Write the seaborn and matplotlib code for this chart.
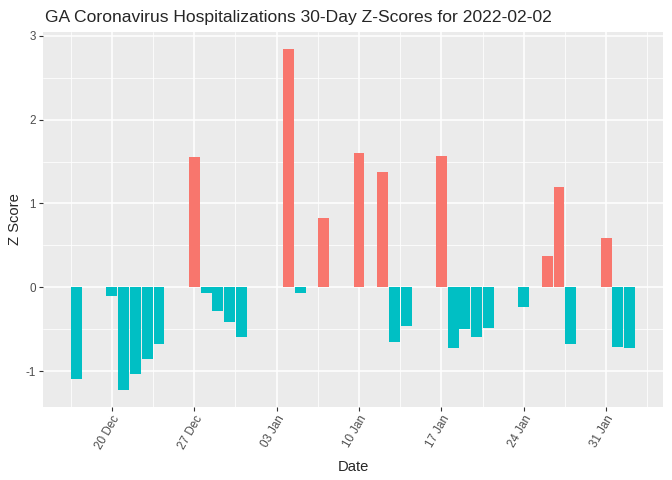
import matplotlib
matplotlib.use("Agg")
import matplotlib.dates as mdates
import matplotlib.pyplot as plt
import matplotlib.ticker as mticker
import pandas as pd
import seaborn as sns

OUTPUT_PATH = "out.png"

DATES = [
    "2021-12-17", "2021-12-20", "2021-12-21", "2021-12-22", "2021-12-23",
    "2021-12-24", "2021-12-27", "2021-12-28", "2021-12-29", "2021-12-30",
    "2021-12-31", "2022-01-04", "2022-01-05", "2022-01-07", "2022-01-10",
    "2022-01-12", "2022-01-13", "2022-01-14", "2022-01-17", "2022-01-18",
    "2022-01-19", "2022-01-20", "2022-01-21", "2022-01-24", "2022-01-26",
    "2022-01-27", "2022-01-28", "2022-01-31", "2022-02-01", "2022-02-02",
]
Z_SCORES = [
    -1.10, -0.10, -1.22, -1.03, -0.86,
    -0.68, 1.55, -0.07, -0.28, -0.41,
    -0.59, 2.84, -0.07, 0.83, 1.60,
    1.37, -0.65, -0.46, 1.56, -0.72,
    -0.50, -0.59, -0.49, -0.23, 0.37,
    1.20, -0.68, 0.59, -0.71, -0.72,
]
TICK_DATES = ["2021-12-20", "2021-12-27", "2022-01-03", "2022-01-10",
              "2022-01-17", "2022-01-24", "2022-01-31"]

POS_COLOR = "#F8766D"
NEG_COLOR = "#00BFC4"


def main() -> None:
    df = pd.DataFrame({"date": pd.to_datetime(DATES), "z": Z_SCORES})
    df["x"] = mdates.date2num(df["date"])
    df["sign"] = df["z"].map(lambda v: "pos" if v > 0 else "neg")

    sns.set_theme(style="darkgrid", rc={
        "axes.facecolor": "#EBEBEB",
        "grid.color": "white",
        "axes.edgecolor": "#EBEBEB",
    })
    plt.rcParams["font.family"] = ["Liberation Sans", "DejaVu Sans"]

    fig = plt.figure(figsize=(6.72, 4.8), dpi=100)
    ax = fig.add_axes([0.064, 0.153, 0.923, 0.78])

    sns.barplot(
        data=df, x="x", y="z", hue="sign",
        palette={"pos": POS_COLOR, "neg": NEG_COLOR},
        native_scale=True, width=0.93, legend=False,
        saturation=1, ax=ax, zorder=3,
    )
    for p in ax.patches:
        p.set_linewidth(0)

    xmin, xmax = df["x"].min() - 0.465, df["x"].max() + 0.465
    pad = (xmax - xmin) * 0.05
    ax.set_xlim(xmin - pad, xmax + pad)
    ymin, ymax = min(0, df["z"].min()), df["z"].max()
    ypad = (ymax - ymin) * 0.05
    ax.set_ylim(ymin - ypad, ymax + ypad)

    ticks = mdates.date2num(pd.to_datetime(TICK_DATES))
    ax.set_xticks(ticks)
    ax.xaxis.set_major_formatter(mdates.DateFormatter("%d %b"))
    minor = list(ticks - 3.5) + [ticks[-1] + 3.5]
    ax.set_xticks(minor, minor=True)
    ax.set_yticks([-1, 0, 1, 2, 3])
    ax.yaxis.set_major_formatter(mticker.FormatStrFormatter("%d"))
    ax.yaxis.set_minor_locator(mticker.MultipleLocator(0.5))

    ax.grid(which="major", color="white", linewidth=1.1)
    ax.grid(which="minor", color="white", linewidth=0.55)
    ax.set_axisbelow(True)

    ax.tick_params(axis="both", which="major", length=3, width=0.8,
                   color="#333333", labelcolor="#4D4D4D", labelsize=8.4,
                   pad=2, bottom=True, left=True)
    ax.tick_params(which="minor", length=0)
    plt.setp(ax.get_xticklabels(), rotation=60, ha="right",
             rotation_mode="anchor")

    ax.set_title("GA Coronavirus Hospitalizations 30-Day Z-Scores for 2022-02-02",
                 loc="left", fontsize=12.6, pad=7, x=0.003)
    ax.set_xlabel("Date", fontsize=10.6, labelpad=6)
    ax.set_ylabel("Z Score", fontsize=10.6, labelpad=3)
    for s in ax.spines.values():
        s.set_visible(False)

    fig.savefig(OUTPUT_PATH, dpi=100)


if __name__ == "__main__":
    main()
